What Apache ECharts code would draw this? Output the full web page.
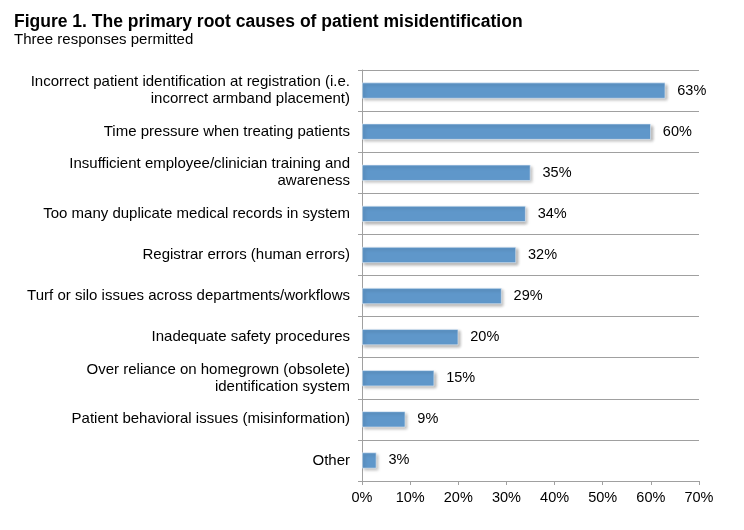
<!DOCTYPE html>
<html><head><meta charset="utf-8">
<script src="https://cdn.jsdelivr.net/npm/echarts@6/dist/echarts.min.js"></script>
<style>html,body{margin:0;padding:0;background:#fff}#c{width:744px;height:530px}</style>
</head><body><div id="c"></div>
<script>
const categories = [
  "Incorrect patient identification at registration (i.e.\nincorrect armband placement)",
  "Time pressure when treating patients",
  "Insufficient employee/clinician training and\nawareness",
  "Too many duplicate medical records in system",
  "Registrar errors (human errors)",
  "Turf or silo issues across departments/workflows",
  "Inadequate safety procedures",
  "Over reliance on homegrown (obsolete)\nidentification system",
  "Patient behavioral issues (misinformation)",
  "Other"
];
const values = [63, 60, 35, 34, 32, 29, 20, 15, 9, 3];
const titleText = "Figure 1. The primary root causes of patient misidentification";
const subtitleText = "Three responses permitted";

const chart = echarts.init(document.getElementById('c'));
const font = 'Liberation Sans, Arial, sans-serif';
chart.setOption({
  animation: false,
  textStyle: { fontFamily: font },
  title: {
    text: titleText, subtext: subtitleText, left: 9, top: 8, itemGap: 1,
    textStyle: { fontFamily: font, fontSize: 17.5, fontWeight: 'bold', color: '#000' },
    subtextStyle: { fontFamily: font, fontSize: 15, color: '#000' }
  },
  grid: { left: 362, right: 45, top: 70, bottom: 49, containLabel: false },
  xAxis: {
    type: 'value', min: 0, max: 70, interval: 10,
    axisLine: { show: true, lineStyle: { color: '#a0a0a0' } },
    axisTick: { show: true, length: 4, lineStyle: { color: '#a0a0a0' } },
    axisLabel: { formatter: '{value}%', color: '#000', fontSize: 14.5, margin: 9, fontFamily: font },
    splitLine: { show: false }
  },
  yAxis: {
    type: 'category', data: categories, inverse: true,
    axisLine: { show: true, lineStyle: { color: '#a0a0a0' } },
    axisTick: { show: true, length: 4, lineStyle: { color: '#a0a0a0' } },
    axisLabel: { color: '#000', fontSize: 15, margin: 12, align: 'right', lineHeight: 17, fontFamily: font },
    splitLine: { show: true, lineStyle: { color: '#a0a0a0' } }
  },
  series: [{
    type: 'bar', data: values, barWidth: 16,
    itemStyle: {
      color: '#5F97CA', borderColor: '#e8f0f8', borderWidth: 0.6,
      shadowColor: 'rgba(0,0,0,0.3)', shadowBlur: 3, shadowOffsetX: 2, shadowOffsetY: 2
    },
    label: { show: true, position: 'right', distance: 12, formatter: '{c}%', color: '#000', fontSize: 14.5, fontFamily: font }
  }]
});
</script></body></html>
